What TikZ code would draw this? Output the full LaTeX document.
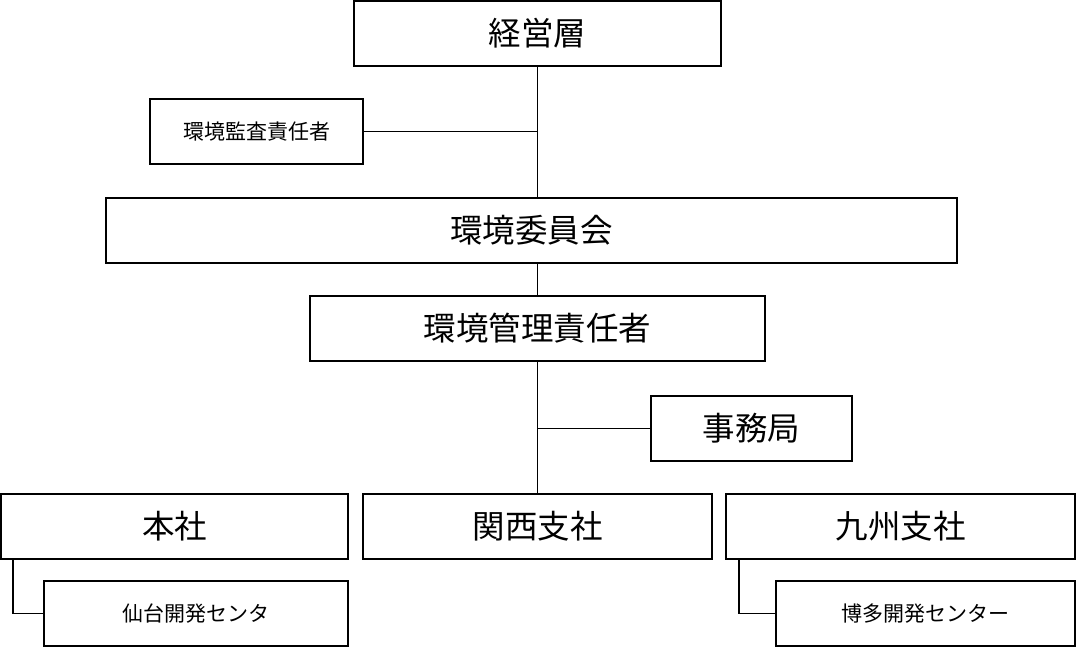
\documentclass[tikz,border=0pt]{standalone}
\usepackage{fontspec}
\setmainfont{Noto Sans CJK JP}
\begin{document}
\begin{tikzpicture}[x=1pt,y=-1pt,
  box/.style={draw,line width=1.6pt,rectangle,minimum height=65pt,inner sep=0pt,anchor=center},
  big/.style={font=\fontsize{32.5}{38}\selectfont},
  small/.style={font=\fontsize{21}{25}\selectfont},
  conn/.style={line width=1.8pt}]
\useasboundingbox (0,0) rectangle (1076,647);
\node[box,big,minimum width=367pt] (keiei) at (537.5,33.5) {経営層};
\node[box,small,minimum width=213pt] (audit) at (256.5,131.5) {環境監査責任者};
\node[box,big,minimum width=851pt] (iinkai) at (531.5,230.5) {環境委員会};
\node[box,big,minimum width=455pt] (kanri) at (537.5,328.5) {環境管理責任者};
\node[box,big,minimum width=201pt] (jimu) at (751.5,428.5) {事務局};
\node[box,big,minimum width=347pt] (honsha) at (174.5,526.5) {本社};
\node[box,big,minimum width=349pt] (kansai) at (537.5,526.5) {関西支社};
\node[box,big,minimum width=349pt] (kyushu) at (900.5,526.5) {九州支社};
\node[box,small,minimum width=304pt] (sendai) at (196,613.5) {仙台開発センタ};
\node[box,small,minimum width=299pt] (hakata) at (925.5,613.5) {博多開発センター};
\draw[conn] (keiei.south) -- (keiei.south |- iinkai.north);
\draw[conn] (audit.east) -- (audit.east -| keiei.south);
\draw[conn] (iinkai.south -| keiei.south) -- (kanri.north);
\draw[conn] (kanri.south) -- (kanri.south |- kansai.north);
\draw[conn] (jimu.west) -- (jimu.west -| kanri.south);
\draw[conn] ([xshift=13pt]honsha.south west) |- (sendai.west);
\draw[conn] ([xshift=14pt]kyushu.south west) |- (hakata.west);
\end{tikzpicture}
\end{document}
